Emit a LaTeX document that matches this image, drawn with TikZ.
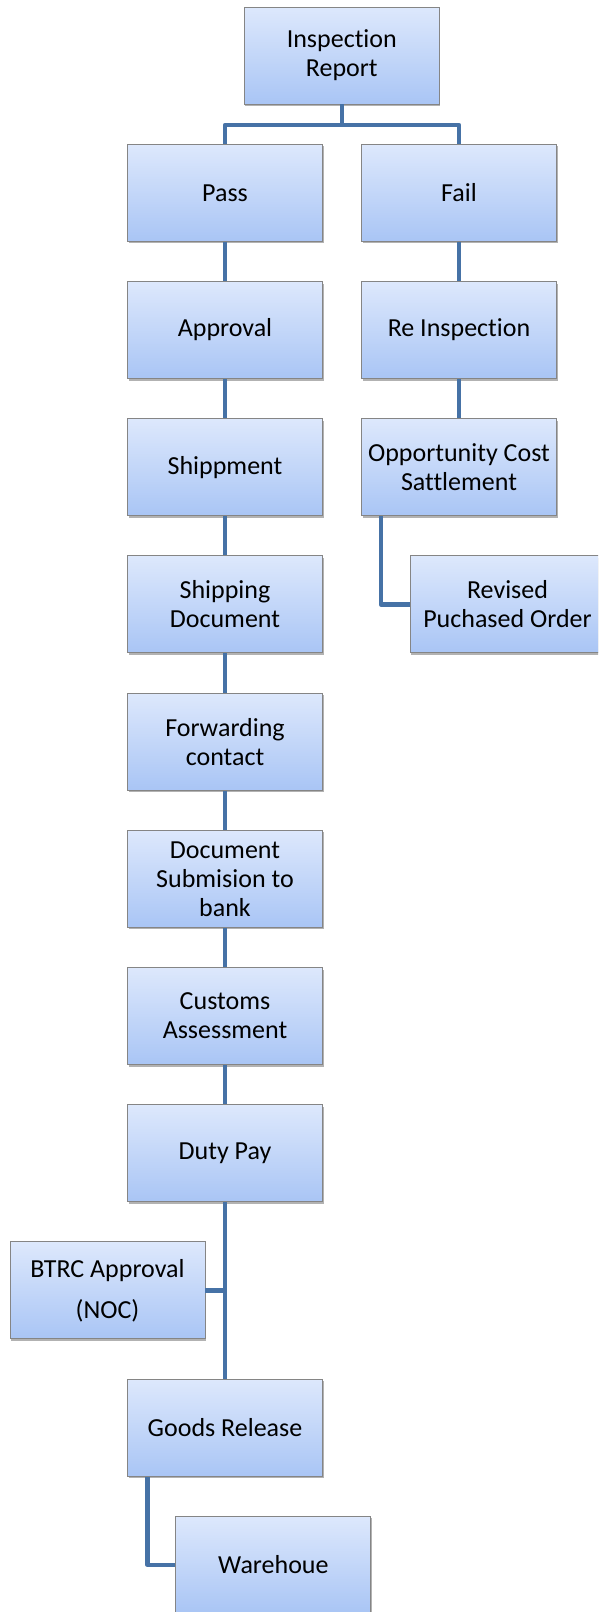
\documentclass[tikz,border=0pt]{standalone}
\usepackage{fontspec}
\setmainfont{Carlito}[Ligatures=NoCommon]
\usetikzlibrary{shadows,calc}
\definecolor{boxtop}{HTML}{DDE8FC}
\definecolor{boxbot}{HTML}{A9C5F5}
\definecolor{boxedge}{HTML}{858585}
\definecolor{linkblue}{HTML}{4672A6}
\tikzset{
  stepbox/.style={rectangle, minimum width=195pt, minimum height=97pt,
    inner sep=0pt, draw=boxedge, line width=0.9pt,
    top color=boxtop, bottom color=boxbot,
    drop shadow={shadow xshift=1pt, shadow yshift=-2pt, opacity=0.3, fill=black},
    align=center, font=\fontsize{26}{29}\selectfont, text=black},
  widelines/.style={font=\fontsize{26}{41}\selectfont},
  link/.style={draw=linkblue, line width=4.6pt, line join=round}
}
\begin{document}
\begin{tikzpicture}[x=1pt,y=-1pt]
\useasboundingbox (0,0) rectangle (598,1612);
\clip (0,0) rectangle (598,1612);
\fill[white] (0,0) rectangle (598,1612);
\coordinate (bus) at (0,125);
% nodes
\node[stepbox] (ir) at (341.8,55.5) {Inspection\\Report};
\node[stepbox] (pass) at (225,192.8) {Pass};
\node[stepbox] (fail) at (459,192.8) {Fail};
\node[stepbox] (appr) at (225,330) {Approval};
\node[stepbox] (reinsp) at (459,330) {Re Inspection};
\node[stepbox] (ship) at (225,467.2) {Shippment};
\node[stepbox] (ocs) at (459,467.2) {Opportunity Cost\\Sattlement};
\node[stepbox] (shipdoc) at (225,604.4) {Shipping\\Document};
\node[stepbox] (rpo) at (507.5,604.4) {Revised\\Puchased Order};
\node[stepbox] (fwd) at (225,741.6) {Forwarding\\contact};
\node[stepbox] (docsub) at (225,878.8) {Document\\Submision to\\bank};
\node[stepbox] (cust) at (225,1016) {Customs\\Assessment};
\node[stepbox] (duty) at (225,1153.2) {Duty Pay};
\node[stepbox, widelines] (btrc) at (107.5,1290.4) {BTRC Approval\\(NOC)};
\node[stepbox] (goods) at (225,1427.6) {Goods Release};
\node[stepbox] (ware) at (273.4,1564.8) {Warehoue};
% links
\draw[link] (ir.south) -- (ir.south |- bus);
\draw[link] (pass.north) -- (pass.north |- bus) -| (fail.north);
\draw[link] (pass) -- (appr);
\draw[link] (appr) -- (ship);
\draw[link] (ship) -- (shipdoc);
\draw[link] (shipdoc) -- (fwd);
\draw[link] (fwd) -- (docsub);
\draw[link] (docsub) -- (cust);
\draw[link] (cust) -- (duty);
\draw[link] (duty.south) -- (goods.north);
\draw[link] (btrc.east) -- (btrc.east -| duty.south);
\draw[link] (fail) -- (reinsp);
\draw[link] (reinsp) -- (ocs);
\draw[link] ($(ocs.south west)+(20,0)$) |- (rpo.west);
\draw[link] ($(goods.south west)+(20.5,0)$) |- (ware.west);
\end{tikzpicture}
\end{document}
